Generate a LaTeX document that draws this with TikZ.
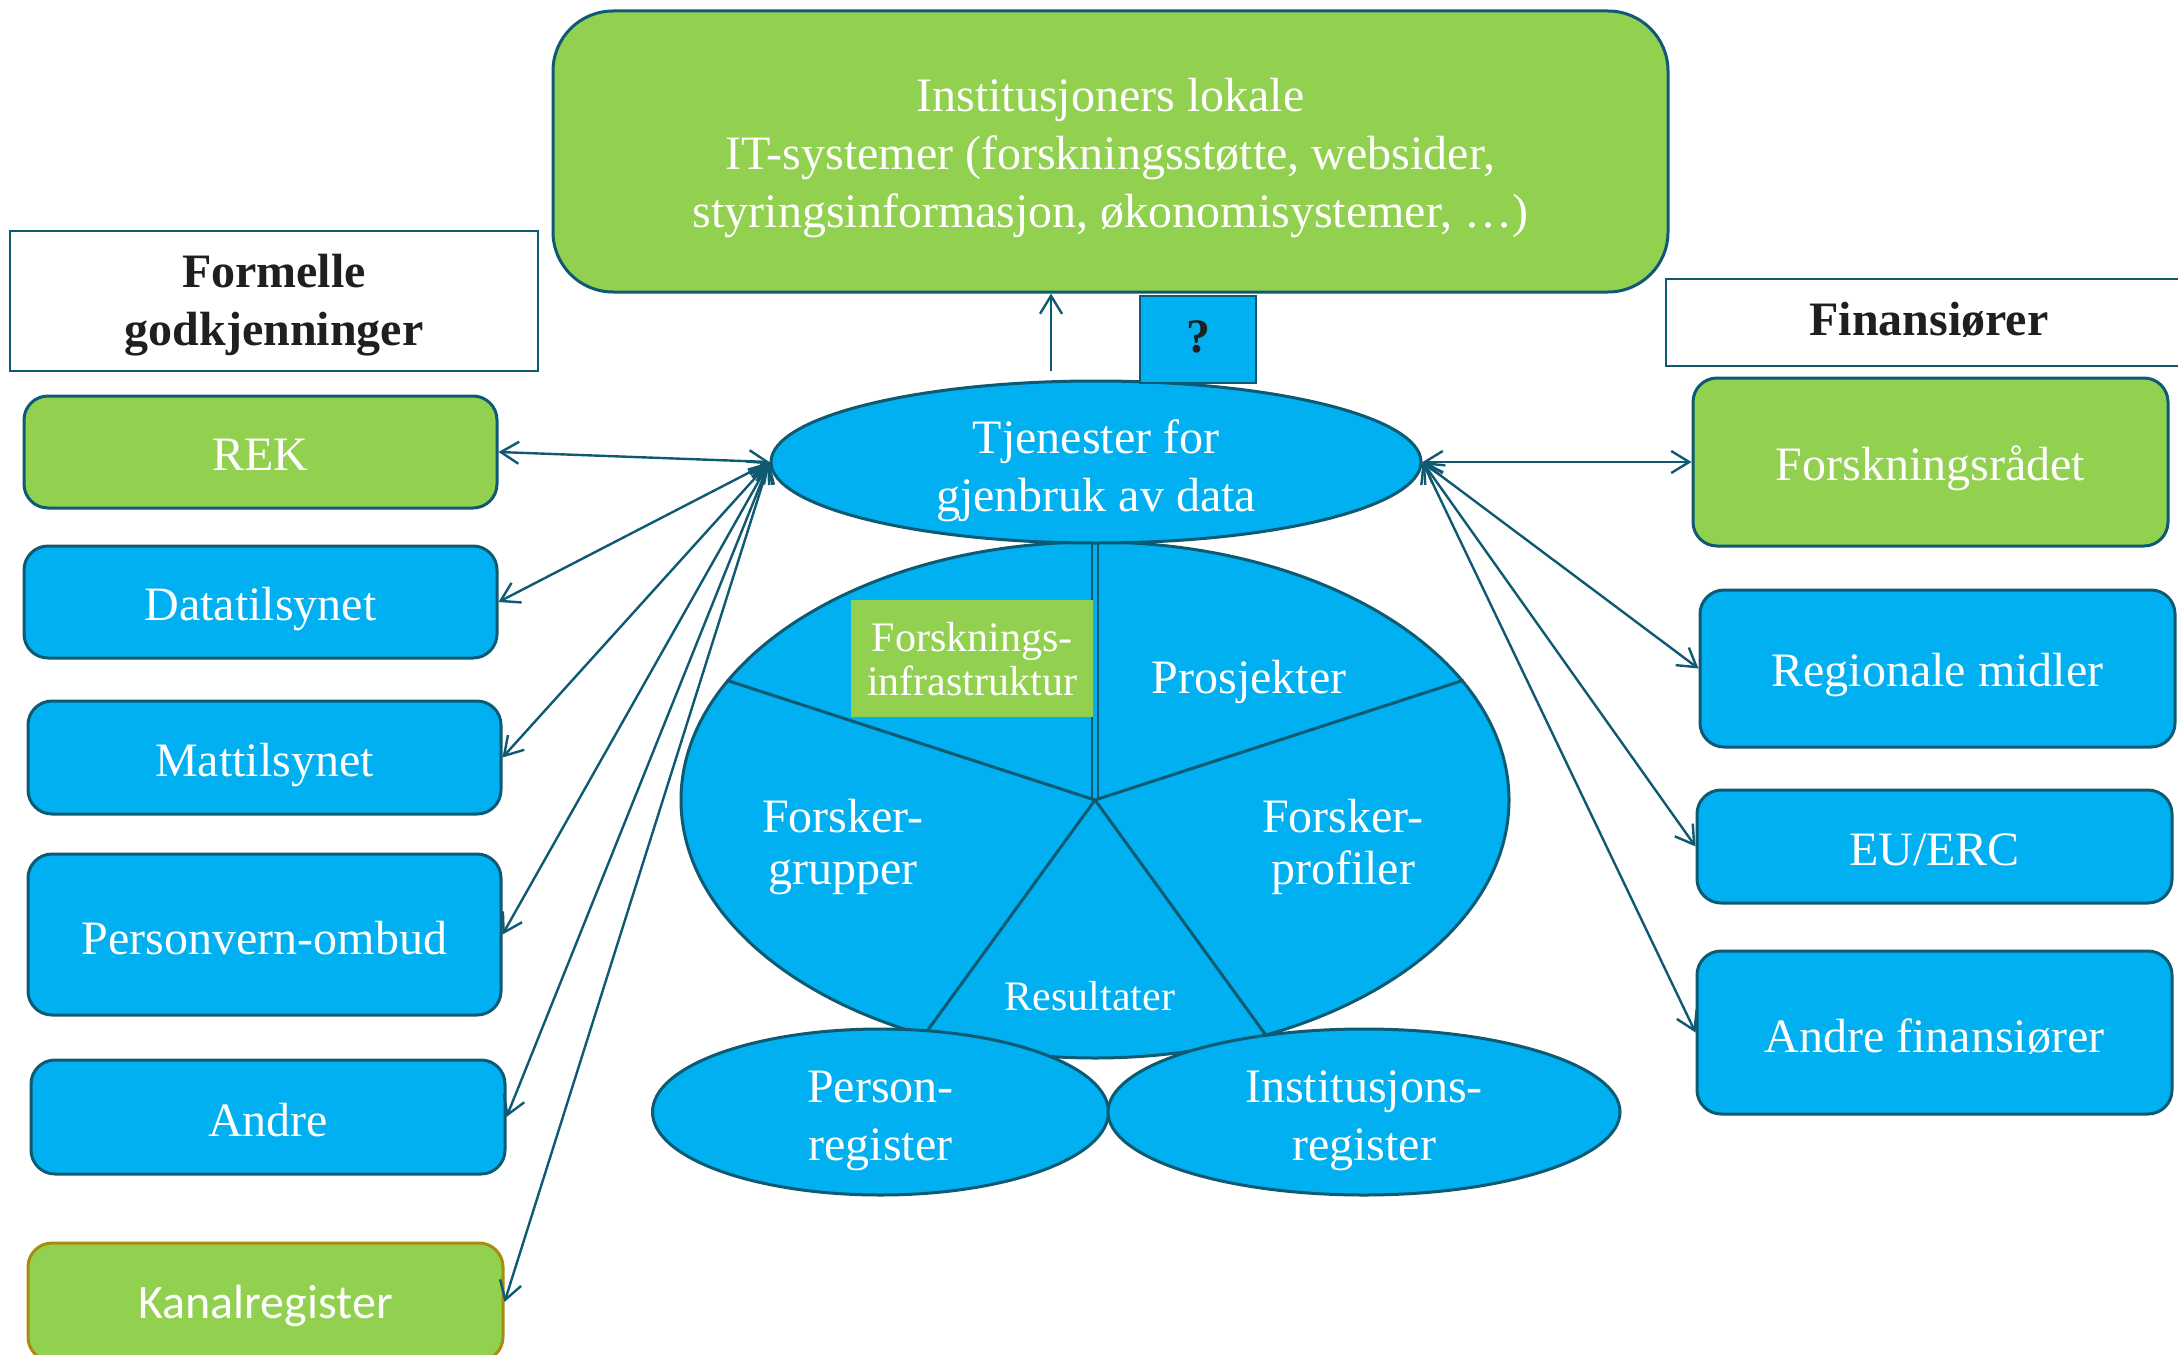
\documentclass[tikz,border=0pt]{standalone}
\usepackage{fontspec}
\setmainfont{Liberation Serif}
\newfontfamily\calib{Carlito}
\usetikzlibrary{shapes.geometric,arrows.meta,calc}
\definecolor{gr}{HTML}{92D050}
\definecolor{bl}{HTML}{00B0F0}
\definecolor{lc}{HTML}{0E5A72}
\definecolor{ol}{HTML}{A88C10}
\begin{document}
\begin{tikzpicture}[x=0.5pt,y=-0.5pt,
 txt/.style={font=\fontsize{24}{29}\selectfont, text=white, align=center, inner sep=0pt},
 box/.style={draw=lc, line width=1.5pt, rounded corners=12pt, inner sep=0pt},
 gbox/.style={box, fill=gr},
 bbox/.style={box, fill=bl},
 hdrtxt/.style={font=\fontsize{24}{29}\selectfont\bfseries, text=black!88, align=center, inner sep=0pt},
 hdr/.style={draw=lc, line width=0.7pt, inner sep=0pt},
 ell/.style={ellipse, draw=lc, line width=1.5pt, fill=bl, inner sep=0pt},
 con/.style={draw=lc, line width=1.2pt, <->},
 >={Straight Barb[length=9pt,width=11pt]},
]
\useasboundingbox (0,0) rectangle (2178,1354);
\fill[white] (0,0) rectangle (2178,1354);

% top box
\node[gbox, rounded corners=30pt, minimum width=557.5pt, minimum height=140.5pt,
 label={[txt,yshift=-3.5pt]center:{Institusjoners lokale\\IT-systemer (forskningsstøtte, websider,\\styringsinformasjon, økonomisystemer, …)}}] (top) at (1110.5,151.5) {};

% headers
\node[hdr, minimum width=264pt, minimum height=70pt, label={[hdrtxt,yshift=-2pt]center:{Formelle\\godkjenninger}}] (fg) at (274,301) {};
\node[hdr, minimum width=263pt, minimum height=43.5pt, label={[hdrtxt,yshift=1.2pt]center:Finansiører}] (fin) at (1929,322.5) {};

% left boxes
\node[gbox, minimum width=236.5pt, minimum height=56pt, label={[txt,yshift=-1.5pt]center:REK}] (rek) at (260.5,452) {};
\node[bbox, minimum width=236.5pt, minimum height=56pt, label={[txt,yshift=-3.5pt]center:Datatilsynet}] (dt) at (260.5,602) {};
\node[bbox, minimum width=236.5pt, minimum height=56.5pt, label={[txt,yshift=-4pt]center:Mattilsynet}] (mt) at (264.5,757.5) {};
\node[bbox, minimum width=236.5pt, minimum height=80.5pt, label={[txt,yshift=-2pt]center:Personvern-ombud}] (po) at (264.5,934.5) {};
\node[bbox, minimum width=237pt, minimum height=57pt, label={[txt,yshift=-1.5pt]center:Andre}] (an) at (268,1117) {};
\node[gbox, draw=ol, minimum width=237.5pt, minimum height=59pt, label={[txt,font=\calib\fontsize{24}{29}\selectfont,yshift=-2pt]center:Kanalregister}] (kr) at (265.5,1302) {};

% right boxes
\node[gbox, minimum width=237.5pt, minimum height=84pt, label={[txt,yshift=-3pt]center:Forskningsrådet}] (fr) at (1930.5,462) {};
\node[bbox, minimum width=237.5pt, minimum height=78.5pt, label={[txt,yshift=-3.5pt]center:Regionale midler}] (rm) at (1937.5,668.5) {};
\node[bbox, minimum width=237.5pt, minimum height=56.5pt, label={[txt,yshift=-1.5pt]center:EU/ERC}] (eu) at (1934.5,846.5) {};
\node[bbox, minimum width=237.5pt, minimum height=81.5pt, label={[txt,yshift=-2pt]center:Andre finansiører}] (af) at (1934.5,1032.5) {};

% pie
\node[ell, minimum width=414pt, minimum height=258pt] (pie) at (1095,800) {};
\draw[lc, line width=1.5pt] (pie.center) -- (pie.162);
\draw[lc, line width=1.5pt] (pie.center) -- (pie.18);
\draw[lc, line width=1.5pt] (pie.center) -- (pie.234);
\draw[lc, line width=1.5pt] (pie.center) -- (pie.306);
\draw[lc, line width=1pt] ([xshift=-1.3pt]pie.center) -- ([xshift=-1.3pt]pie.north);
\draw[lc, line width=1pt] ([xshift=1.3pt]pie.center) -- ([xshift=1.3pt]pie.north);

\node[fill=gr, inner sep=0pt, minimum width=121pt, minimum height=58.5pt,
 label={[txt,font=\fontsize{21}{22}\selectfont,yshift=-0.5pt]center:{Forsknings-\\infrastruktur}}] (fi) at (972,658.5) {};
\node[txt, yshift=-3pt] (pj) at (1249,676) {Prosjekter};
\node[txt, font=\fontsize{24}{26}\selectfont, yshift=-3.5pt] (fgr) at (843,840) {Forsker-\\grupper};
\node[txt, font=\fontsize{24}{26}\selectfont, yshift=-3.5pt] (fpr) at (1343,840) {Forsker-\\profiler};
\node[txt, font=\fontsize{21}{25}\selectfont] (res) at (1090,996) {Resultater};

% lower ellipses
\node[ell, minimum width=228pt, minimum height=83pt, label={[txt,yshift=-4.5pt]center:{Person-\\register}}] (pr) at (880.5,1112) {};
\node[ell, minimum width=256pt, minimum height=83pt, label={[txt,yshift=-4.5pt]center:{Institusjons-\\register}}] (ir) at (1364,1112) {};

% main ellipse
\node[ell, minimum width=325pt, minimum height=81pt, label={[txt,yshift=-4.5pt]center:{Tjenester for\\gjenbruk av data}}] (tj) at (1096,462) {};

% question box
\node[draw=lc, line width=0.7pt, fill=bl, minimum width=58pt, minimum height=43.5pt, inner sep=0pt,
 label={[hdrtxt,yshift=1.2pt]center:?}] (q) at (1198,339.5) {};

% connectors
\coordinate (up) at (1051,371);
\draw[draw=lc, line width=1.2pt, ->] (up) -- (up |- top.south);

\draw[con] (tj.west) -- (rek.east);
\draw[con] (tj.west) -- (dt.east);
\draw[con] (tj.west) -- (mt.east);
\draw[con] (tj.west) -- (po.east);
\draw[con] (tj.west) -- (an.east);
\draw[con] (tj.west) -- (kr.east);

\draw[con] (tj.east) -- (fr.west);
\draw[con] (tj.east) -- (rm.west);
\draw[con] (tj.east) -- (eu.west);
\draw[con] (tj.east) -- (af.west);
\end{tikzpicture}
\end{document}
